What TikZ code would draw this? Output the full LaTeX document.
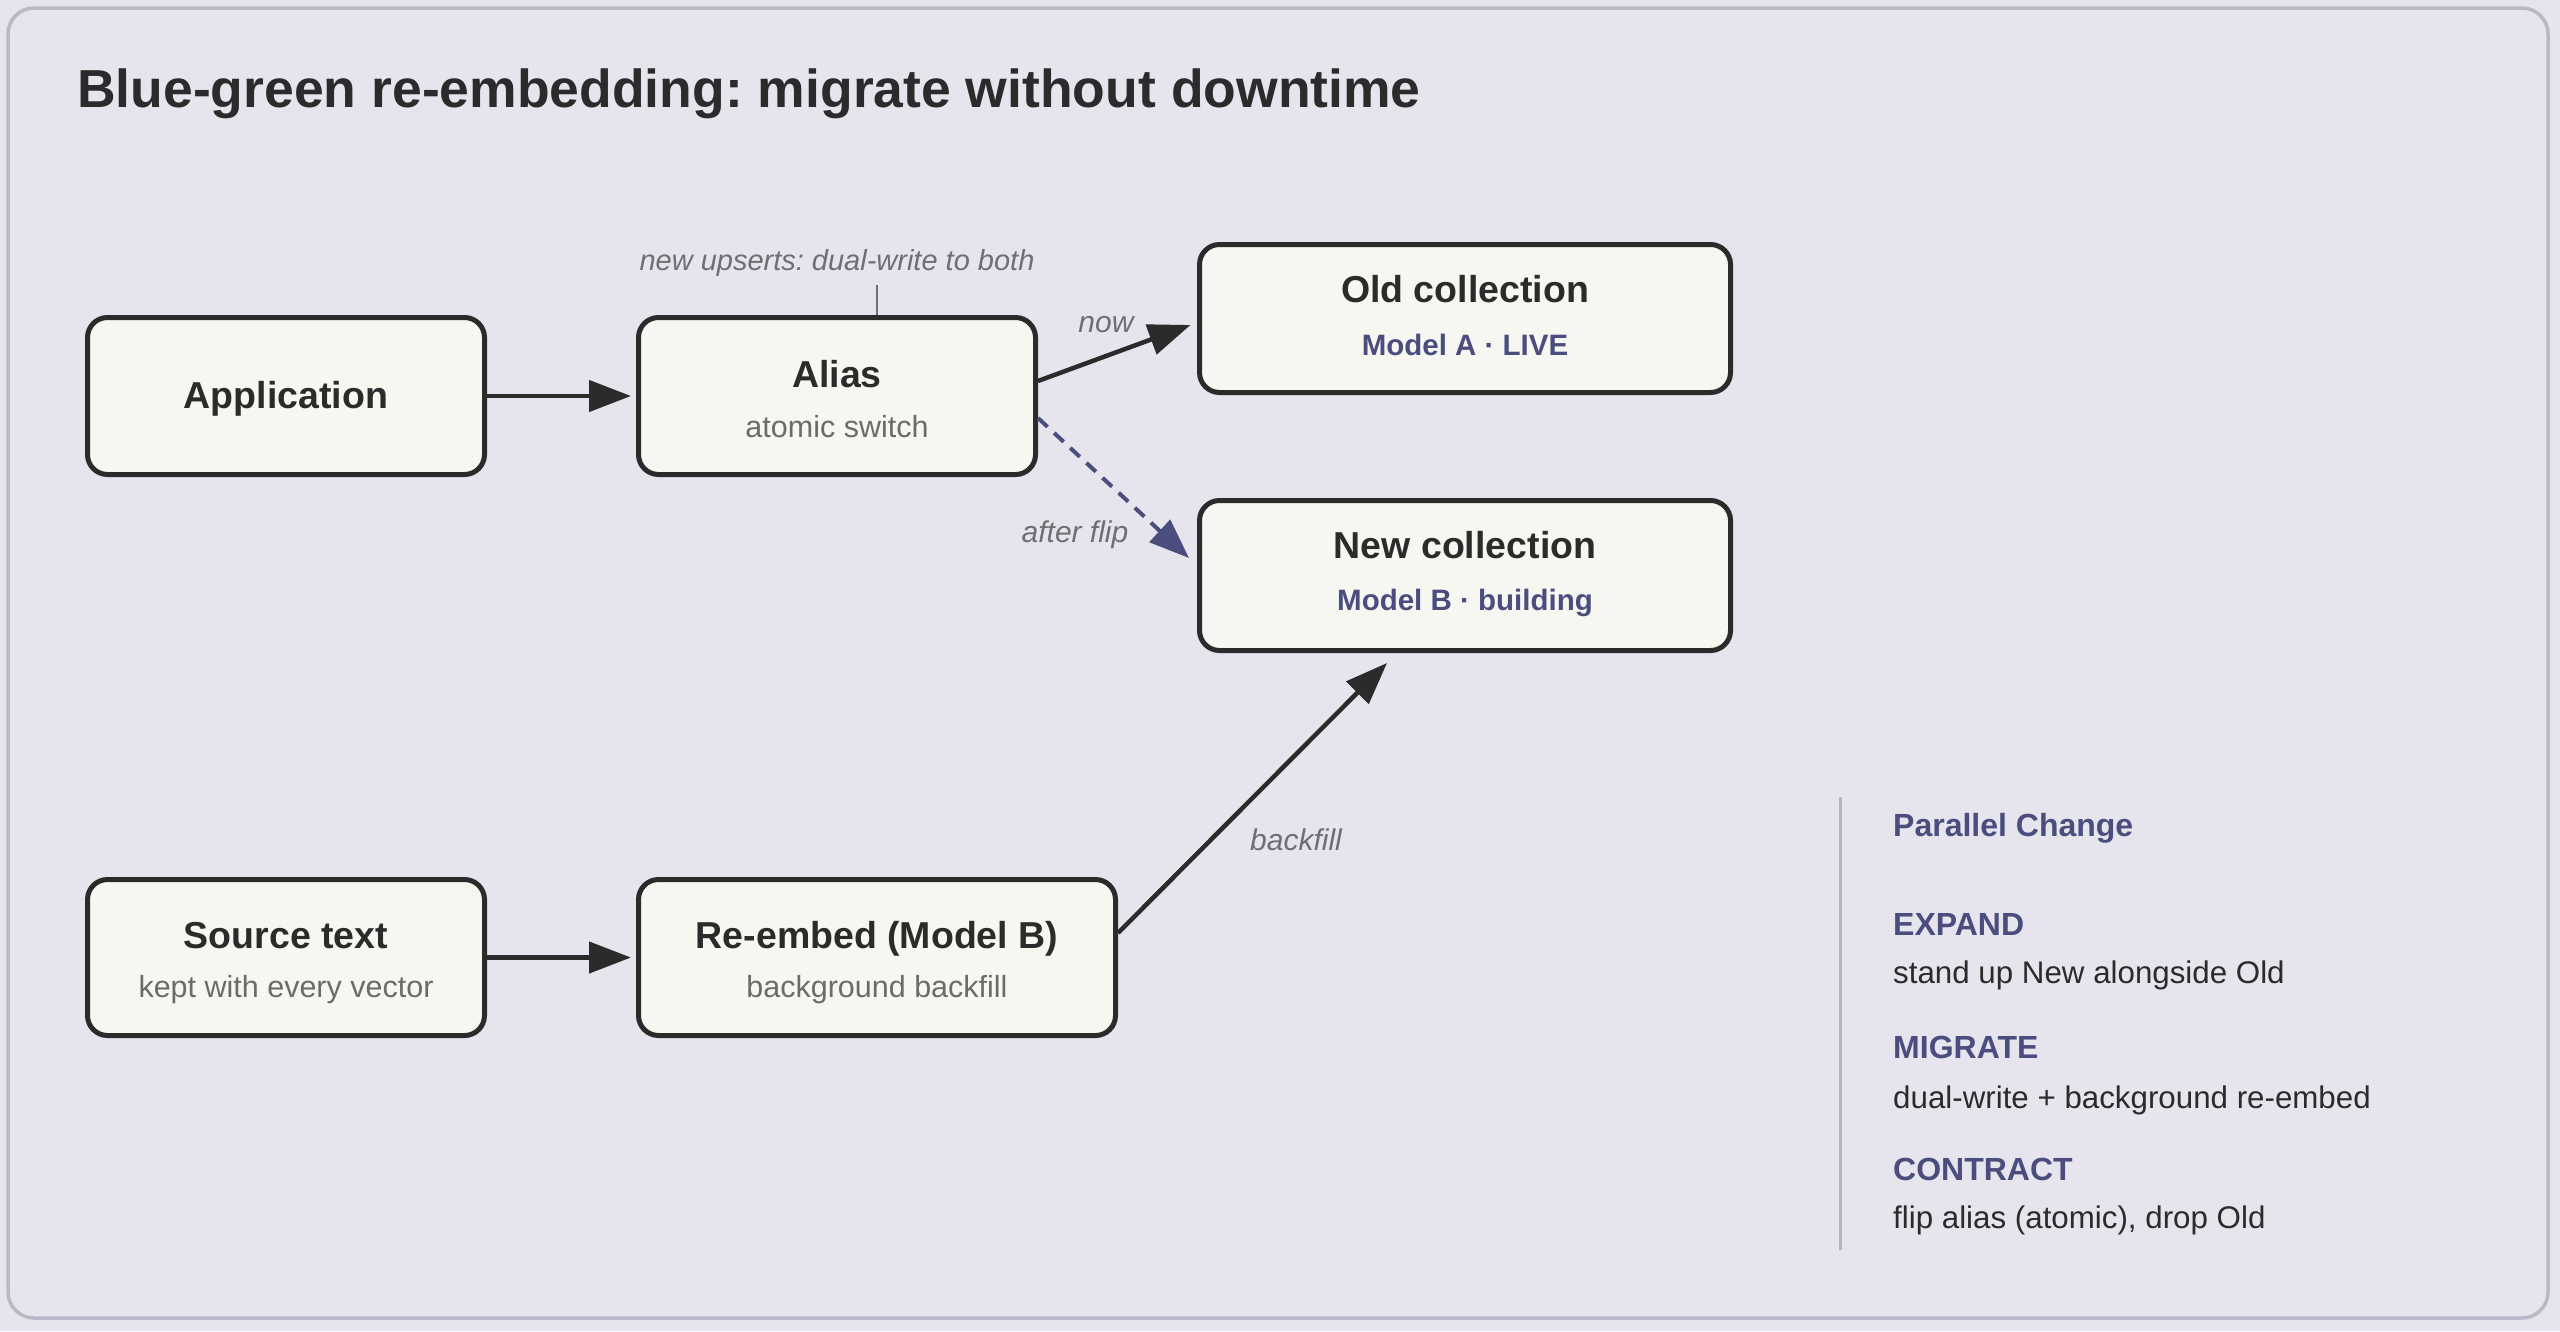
\documentclass[tikz,border=0pt]{standalone}
\usepackage{fontspec}
\setmainfont{Liberation Sans}
\usetikzlibrary{arrows.meta}
\frenchspacing
\definecolor{bg}{HTML}{E6E5EE}
\definecolor{framecol}{HTML}{B9B8C6}
\definecolor{boxfill}{HTML}{F7F7F2}
\definecolor{ink}{HTML}{2B2B2B}
\definecolor{subgray}{HTML}{6B6B6B}
\definecolor{slate}{HTML}{4B4D7E}
\definecolor{lblgray}{HTML}{6E6E73}
\definecolor{rulecol}{HTML}{B4B3C2}
\newcommand{\setfs}[1]{\fontsize{#1}{#1}\selectfont}
\begin{document}
\begin{tikzpicture}[x=1pt,y=-1pt,
  box/.style={draw=ink, line width=5pt, fill=boxfill, rounded corners=20pt, inner sep=0pt},
  ttl/.style={anchor=base, inner sep=0pt, text=ink, font=\setfs{37.5}\bfseries},
  subt/.style={anchor=base, inner sep=0pt, text=subgray, font=\setfs{30.5}},
  model/.style={anchor=base, inner sep=0pt, text=slate, font=\setfs{29.5}\bfseries},
  elbl/.style={anchor=base, inner sep=0pt, text=lblgray, font=\setfs{30}\itshape},
  conn/.style={draw=ink, line width=4.5pt, -{Triangle[length=42pt,width=31pt]}},
  dconn/.style={draw=slate, line width=4pt, dash pattern=on 13pt off 9pt, -{Triangle[length=40pt,width=30pt]}},
  panelhead/.style={anchor=base west, inner sep=0pt, text=slate, font=\setfs{32}\bfseries},
  paneltext/.style={anchor=base west, inner sep=0pt, text=ink, font=\setfs{31.3}}
]
\useasboundingbox (0,0) rectangle (2560,1331);
\fill[bg] (0,0) rectangle (2560,1331);
\draw[framecol, line width=3.5pt, rounded corners=26pt, fill=bg] (8,8) rectangle (2548,1318);

\node[anchor=base west, inner sep=0pt, text=ink, font=\setfs{53.5}\bfseries] (title) at (77,107)
  {Blue-green re-embedding: migrate without downtime};

% boxes
\node[box, minimum width=397pt, minimum height=157pt] (app) at (286,396) {};
\node[box, minimum width=397pt, minimum height=157pt] (alias) at (837,396) {};
\node[box, minimum width=531pt, minimum height=148pt] (old) at (1465,318.5) {};
\node[box, minimum width=531pt, minimum height=150pt] (new) at (1465,575.5) {};
\node[box, minimum width=397pt, minimum height=156pt] (src) at (286,957.5) {};
\node[box, minimum width=477pt, minimum height=156pt] (reemb) at (877,957.5) {};

% box texts
\node[ttl] (appT) at (286,408) {Application};
\node[ttl] (aliasT) at (837,387) {Alias};
\node[subt] (aliasS) at (837,437) {atomic switch};
\node[ttl] (oldT) at (1465,302) {Old collection};
\node[model] (oldS) at (1465,355) {Model A · LIVE};
\node[ttl] (newT) at (1465,558) {New collection};
\node[model] (newS) at (1465,610) {Model B · building};
\node[ttl] (srcT) at (286,948) {Source text};
\node[subt] (srcS) at (286,997) {kept with every vector};
\node[ttl] (reembT) at (877,948) {Re-embed (Model B)};
\node[subt] (reembS) at (877,997) {background backfill};

% connectors
\draw[conn, shorten >=5pt] (app.east) -- (alias.west);
\draw[conn, shorten >=5pt] (src.east) -- (reemb.west);
\draw[conn] ([yshift=15pt]alias.east) -- ([xshift=-6.5pt,yshift=-6.5pt]old.west);
\draw[dconn] ([yshift=-22pt]alias.east) -- ([xshift=-8pt,yshift=17.5pt]new.west);
\draw[conn] ([yshift=24.5pt]reemb.east) -- ([xshift=-78pt,yshift=-10pt]new.south);

% edge labels
\node[elbl] (nowL) at (1106,332) {now};
\node[elbl] (flipL) at (1075,542) {after flip};
\node[elbl] (backL) at (1296,850) {backfill};

% annotation
\node[elbl, font=\setfs{29}\itshape] (upsert) at (837,270) {new upserts: dual-write to both};
\coordinate (tickTop) at (877,285);
\draw[lblgray, line width=2pt] (tickTop) -- (tickTop |- alias.north);

% right panel
\coordinate (ruleTop) at (1840,797);
\coordinate (ruleBot) at (1840,1250);
\draw[rulecol, line width=3pt] (ruleTop) -- (ruleBot);
\node[panelhead] (pc) at (1893,836) {Parallel Change};
\node[panelhead] (exp) at (1893,935) {EXPAND};
\node[paneltext] (expT) at (1893,983) {stand up New alongside Old};
\node[panelhead] (mig) at (1893,1058) {MIGRATE};
\node[paneltext] (migT) at (1893,1108) {dual-write + background re-embed};
\node[panelhead] (con) at (1893,1180) {CONTRACT};
\node[paneltext] (conT) at (1893,1228) {flip alias (atomic), drop Old};
\end{tikzpicture}
\end{document}
